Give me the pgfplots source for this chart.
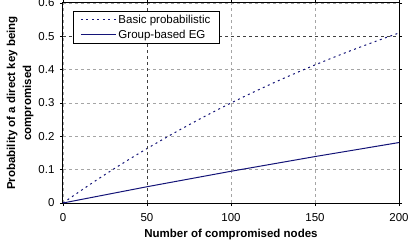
\documentclass[border=0pt]{standalone}
\usepackage{pgfplots}
\pgfplotsset{compat=1.18}
\usepackage{fontspec}
\setmainfont{Liberation Sans}
\definecolor{navyline}{RGB}{20,20,120}
\definecolor{gridgray}{RGB}{165,165,165}
\begin{document}
\begin{tikzpicture}
\begin{axis}[
  scale only axis,
  width=336pt, height=200pt,
  xmin=0, xmax=200, ymin=0, ymax=0.6,
  xtick={0,50,100,150,200},
  ytick={0,0.1,0.2,0.3,0.4,0.5,0.6},
  yticklabels={0,0.1,0.2,0.3,0.4,0.5,0.6},
  xticklabels={0,50,100,150,200},
  axis line style={black, line width=1pt},
  tick style={black, line width=0.6pt},
  tick align=outside,
  major tick length=3pt,
  grid=major,
  major grid style={gridgray, dashed, line width=0.6pt},
  ticklabel style={font=\fontsize{11.5}{13}\selectfont},
  yticklabel style={xshift=-2pt},
  xticklabel style={yshift=-4pt},
  xlabel={\textbf{Number of compromised nodes}},
  ylabel={\textbf{Probability of a direct key being}\\\textbf{compromised}},
  ylabel style={align=center, font=\fontsize{11.5}{16}\selectfont, yshift=-2pt},
  xlabel style={font=\fontsize{11.5}{13}\selectfont, yshift=-1pt},
  legend style={at={(rel axis cs:0.03,0.96)}, anchor=north west, draw=black, line width=0.8pt,
    font=\fontsize{11.5}{13}\selectfont, row sep=1pt, inner xsep=7pt, inner ysep=1.5pt,
    nodes={inner xsep=2pt}},
  legend cell align=left,
  legend image code/.code={\draw[#1, line width=1pt] (0pt,0pt) -- (35pt,0pt);},
]
\addplot[navyline, dash pattern=on 2pt off 3.5pt, line width=1pt] coordinates {
(0,0) (10,0.0350) (20,0.0689) (30,0.1015) (40,0.1330) (50,0.1633)
(60,0.1926) (70,0.2209) (80,0.2482) (90,0.2746) (100,0.3000)
(110,0.3245) (120,0.3482) (130,0.3710) (140,0.3930) (150,0.4143)
(160,0.4348) (170,0.4546) (180,0.4737) (190,0.4922) (200,0.5100)};
\addlegendentry{Basic probabilistic}
\addplot[navyline, line width=1pt] coordinates {
(0,0) (50,0.0488) (100,0.0952) (150,0.1393) (200,0.1814)};
\addlegendentry{Group-based EG}
\addplot[black!75, dashed, line width=1pt, forget plot] coordinates {(50,0) (50,0.6)};
\addplot[black!75, dashed, line width=1pt, forget plot] coordinates {(0,0.5) (200,0.5)};
\coordinate (ll) at (rel axis cs:0,0);
\coordinate (ur) at (rel axis cs:1,1);
\end{axis}
\pgfresetboundingbox
\path ([shift={(-63pt,-43pt)}]ll) rectangle ([shift={(9pt,3pt)}]ur);
\end{tikzpicture}
\end{document}
